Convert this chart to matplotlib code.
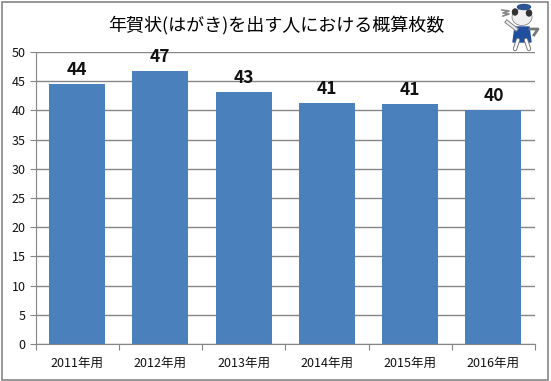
import matplotlib
matplotlib.use("Agg")
import matplotlib.pyplot as plt
import matplotlib.patches as mpatches

plt.rcParams["font.family"] = ["Noto Sans CJK JP", "DejaVu Sans"]

W, H = 551, 381

years = ["2011年用", "2012年用", "2013年用", "2014年用", "2015年用", "2016年用"]
values = [44.5, 46.8, 43.2, 41.3, 41.1, 40.1]
labels = ["44", "47", "43", "41", "41", "40"]
y_ticks = [0, 5, 10, 15, 20, 25, 30, 35, 40, 45, 50]

fig = plt.figure(figsize=(W / 100, H / 100), dpi=100)
fig.patch.set_facecolor("white")

# 外枠
fig.add_artist(mpatches.Rectangle((1.5 / W, 1 - 379.5 / H), 546.5 / W, 378 / H,
                                  fill=False, edgecolor="#868686", linewidth=1.2))

ax = fig.add_axes([35.5 / W, 1 - 344 / H, 499.5 / W, 292 / H])
ax.set_axisbelow(True)
ax.grid(axis="y", color="#868686", linewidth=1)
ax.bar(range(len(values)), values, width=0.67, color="#4A80BC", zorder=2)

for i, (v, t) in enumerate(zip(values, labels)):
    ax.annotate(t, xy=(i, v), xytext=(0, 3.5), textcoords="offset points",
                ha="center", va="bottom", fontsize=12.5, fontweight="bold",
                color="#111111")

ax.set_xlim(-0.5, 5.5)
ax.set_ylim(0, 50)
ax.set_yticks(y_ticks)
ax.set_xticks([i - 0.5 for i in range(7)], minor=False)
ax.set_xticklabels([])
ax.set_xticks(range(6), minor=True)
ax.set_xticklabels(years, minor=True, fontsize=9, color="#111111")
ax.tick_params(axis="x", which="major", length=4, color="#868686", direction="out")
ax.tick_params(axis="x", which="minor", length=0, pad=9)
ax.tick_params(axis="y", length=4, color="#868686", labelsize=9, labelcolor="#111111", pad=3)
ax.spines[["top", "right"]].set_visible(False)
ax.spines[["left", "bottom"]].set_color("#868686")

fig.text(276 / W, 1 - 25 / H, "年賀状(はがき)を出す人における概算枚数",
         ha="center", va="center", fontsize=13, color="black")

# 右上のマスコット (ピクセル座標で簡易に描く)
m = fig.add_axes([0, 0, 1, 1], facecolor="none")
m.set_xlim(0, W)
m.set_ylim(H, 0)
m.axis("off")
for xs, ys in [([518, 515], [40, 49]), ([526, 529], [40, 49])]:
    m.plot(xs, ys, color="#777777", linewidth=3.2, solid_capstyle="round")
    m.plot(xs, ys, color="white", linewidth=1.8, solid_capstyle="round")
m.plot([530, 538, 534], [29, 29, 35], color="#777777", linewidth=2)
m.plot([516, 507], [29, 22], color="#888888", linewidth=3)
m.plot([516, 507], [29, 22], color="#EEEEEE", linewidth=1.5)
m.add_patch(mpatches.Polygon([[515, 27], [529, 27], [531, 42], [513, 42]], color="#1F4F9E"))
m.add_patch(mpatches.Ellipse((522, 17), 20, 17, facecolor="#F0F0F0", edgecolor="#888888", linewidth=0.6))
m.add_patch(mpatches.Ellipse((515, 12), 5, 6, color="#333333"))
m.add_patch(mpatches.Ellipse((529, 13), 5, 6, color="#333333"))
m.add_patch(mpatches.Ellipse((524, 7), 13, 5, color="#2A5590"))
m.plot([502, 509, 503, 509, 503], [10, 11, 13, 14, 16], color="#888888", linewidth=1.2)

plt.savefig("out.png", dpi=100)
